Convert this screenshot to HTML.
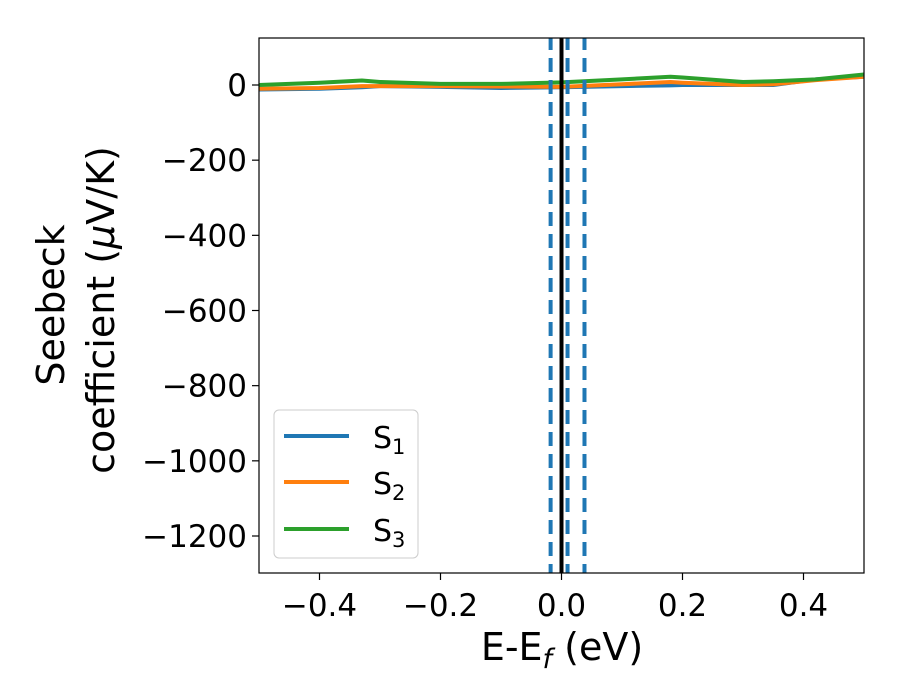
<!DOCTYPE html>
<html><head><meta charset="utf-8"><style>
body{margin:0;background:#fff}
svg{display:block;font-family:"DejaVu Sans","Liberation Sans",sans-serif}
</style></head><body>
<svg id="chart" width="900" height="700" viewBox="0 0 900 700">
<rect width="900" height="700" fill="#fff"/>
<g id="series"></g>
<g id="vlines"></g>
<rect x="259" y="38" width="605" height="535" fill="none" stroke="#000" stroke-width="1.2"/>
<g id="axes"></g>
<text x="562" y="660" font-size="38" text-anchor="middle">E-E<tspan font-style="italic" font-size="27" dy="8">f</tspan><tspan dy="-8"> (eV)</tspan></text>
<g transform="translate(64,305) rotate(-90)">
<text x="0" y="0" font-size="38" text-anchor="middle">Seebeck</text>
<text x="-5" y="50" font-size="38" text-anchor="middle">coefficient  (<tspan font-style="italic">μ</tspan>V/K)</text>
</g>
<g>
<rect x="274" y="410" width="144" height="148" rx="5" fill="#fff" fill-opacity="0.8" stroke="#ccc" stroke-width="1"/>
<line x1="284" y1="436" x2="349" y2="436" stroke="#1f77b4" stroke-width="4"/>
<text x="373" y="448" font-size="30">S<tspan font-size="21" dy="6">1</tspan></text>
<line x1="284" y1="482" x2="349" y2="482" stroke="#ff7f0e" stroke-width="4"/>
<text x="373" y="494" font-size="30">S<tspan font-size="21" dy="6">2</tspan></text>
<line x1="284" y1="529" x2="349" y2="529" stroke="#2ca02c" stroke-width="4"/>
<text x="373" y="541" font-size="30">S<tspan font-size="21" dy="6">3</tspan></text>
</g>
</svg>
<script>
const energies = [-0.5,-0.4,-0.33,-0.3,-0.2,-0.1,0,0.1,0.18,0.2,0.3,0.35,0.42,0.5];
const s1 = [-12,-10,-6,-3,-5,-8,-6,-3,-1,0,0,0,15,22];
const s2 = [-10,-8,-3,-3,-3,-4,-5,2,8,6,0,2,13,22];
const s3 = [0,6,12,8,3,3,7,15,22,20,8,10,15,28];
const xTicks = [-0.4,-0.2,0.0,0.2,0.4];
const xTickLabels = ["−0.4","−0.2","0.0","0.2","0.4"];
const yTicks = [0,-200,-400,-600,-800,-1000,-1200];
const yTickLabels = ["0","−200","−400","−600","−800","−1000","−1200"];
const dashedEnergies = [-0.018,0.01,0.038];
const fermiEnergy = 0;
const NS="http://www.w3.org/2000/svg";
const x = v => 259 + (v + 0.5) / 1.0 * 605;
const y = v => 85 - v * (451/1200);
function mk(t,a,p){const e=document.createElementNS(NS,t);for(const k in a)e.setAttribute(k,a[k]);p.appendChild(e);return e;}
const axes=document.getElementById('axes');
xTicks.forEach((t,i)=>{
  const l=mk('line',{x1:x(t),x2:x(t),y1:573,y2:580,stroke:'#000','stroke-width':1.2},axes);
  
  
  const tx=mk('text',{x:x(t),y:616,'font-size':31,'text-anchor':'middle'},axes);
  tx.textContent=xTickLabels[i];
  
  
});
yTicks.forEach((t,i)=>{
  const l=mk('line',{x1:252,x2:259,y1:y(t),y2:y(t),stroke:'#000','stroke-width':1.2},axes);
  
  
  const tx=mk('text',{x:247,y:y(t)+11,'font-size':31,'text-anchor':'end'},axes);
  tx.textContent=yTickLabels[i];
  
  
});
const ser=document.getElementById('series');
const cols=['#1f77b4','#ff7f0e','#2ca02c'];
[s1,s2,s3].forEach((s,k)=>{
  const d=s.map((v,i)=>(i?'L':'M')+x(energies[i]).toFixed(1)+','+y(v).toFixed(1)).join(' ');
  const p=mk('path',{d:d,fill:'none',stroke:cols[k],'stroke-width':4,'stroke-linejoin':'round'},ser);
  
  
});
const vl=document.getElementById('vlines');
dashedEnergies.forEach(e=>{
  const l=mk('line',{x1:x(e),x2:x(e),y1:38,y2:573,stroke:'#1f77b4','stroke-width':4,'stroke-dasharray':'14 8','stroke-dashoffset':'2'},vl);
  
  
});
const f=mk('line',{x1:x(fermiEnergy),x2:x(fermiEnergy),y1:38,y2:573,stroke:'#000','stroke-width':4},vl);


</script>
</body></html>
